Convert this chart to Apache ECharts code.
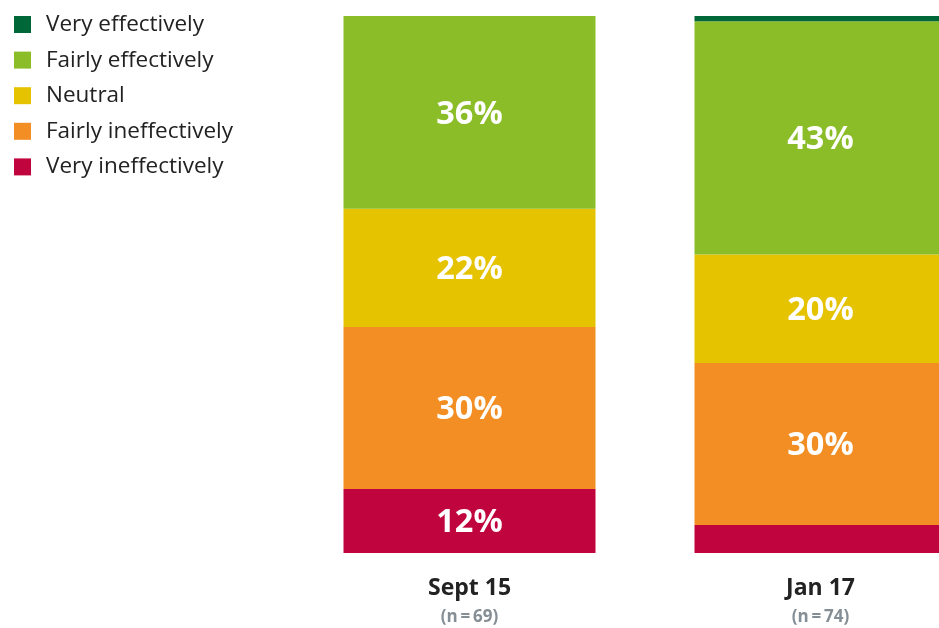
<!DOCTYPE html>
<html>
<head>
<meta charset="utf-8">
<style>
  html, body { margin: 0; padding: 0; background: #ffffff; }
  #chart { width: 939px; height: 628px; }
</style>
<script src="https://cdn.jsdelivr.net/npm/echarts@6/dist/echarts.min.js"></script>
</head>
<body>
<div id="chart"></div>
<script>
// Data (percent of respondents)
var categories = ['Sept 15', 'Jan 17'];
var sampleSizes = ['(n\u2009=\u200969)', '(n\u2009=\u200974)'];
var veryIneffectively = [11.9, 5.2];
var fairlyIneffectively = [30.2, 30.2];
var neutral = [22.0, 20.2];
var fairlyEffectively = [35.9, 43.4];
var veryEffectively = [0, 1.0];
var legendOrder = ['Very effectively', 'Fairly effectively', 'Neutral', 'Fairly ineffectively', 'Very ineffectively'];

var FONT = '"Open Sans", "Noto Sans", sans-serif';

function makeSeries(name, data, color) {
  return {
    name: name,
    type: 'bar',
    stack: 'total',
    data: data,
    barWidth: 252,
    itemStyle: { color: color },
    label: {
      show: true,
      position: 'inside',
      offset: [0, 2],
      color: '#ffffff',
      fontFamily: FONT,
      fontWeight: 'bold',
      fontSize: 32.5,
      formatter: function (p) {
        return p.value >= 10 ? Math.round(p.value) + '%' : '';
      }
    },
    emphasis: { disabled: true }
  };
}

var chart = echarts.init(document.getElementById('chart'), null, { renderer: 'canvas' });
chart.setOption({
  animation: false,
  backgroundColor: '#ffffff',
  legend: {
    data: legendOrder,
    orient: 'vertical',
    left: 14,
    top: 13,
    padding: 0,
    itemWidth: 17,
    itemHeight: 17,
    itemGap: 12.6,
    icon: 'rect',
    textStyle: {
      fontFamily: FONT,
      fontSize: 22.5,
      color: '#222222',
      padding: [0, 0, 0, 10]
    },
    selectedMode: false
  },
  grid: {
    left: 294,
    width: 702,
    top: 16,
    bottom: 75,
    containLabel: false,
    outerBoundsMode: 'none'
  },
  xAxis: {
    type: 'category',
    data: categories,
    axisLine: { show: false },
    axisTick: { show: false },
    axisLabel: {
      margin: 20,
      formatter: function (v, i) {
        return '{a|' + v + '}\n{b|' + sampleSizes[i] + '}';
      },
      rich: {
        a: { fontFamily: FONT, fontWeight: 'bold', fontSize: 23, color: '#222222', lineHeight: 30 },
        b: { fontFamily: FONT, fontWeight: 'bold', fontSize: 17, color: '#858e95', lineHeight: 28 }
      }
    }
  },
  yAxis: {
    type: 'value',
    min: 0,
    max: 100,
    show: false,
    splitLine: { show: false }
  },
  series: [
    makeSeries('Very ineffectively', veryIneffectively, '#c0053e'),
    makeSeries('Fairly ineffectively', fairlyIneffectively, '#f28e23'),
    makeSeries('Neutral', neutral, '#e5c300'),
    makeSeries('Fairly effectively', fairlyEffectively, '#8abd28'),
    makeSeries('Very effectively', veryEffectively, '#006838')
  ]
});
</script>
</body>
</html>
